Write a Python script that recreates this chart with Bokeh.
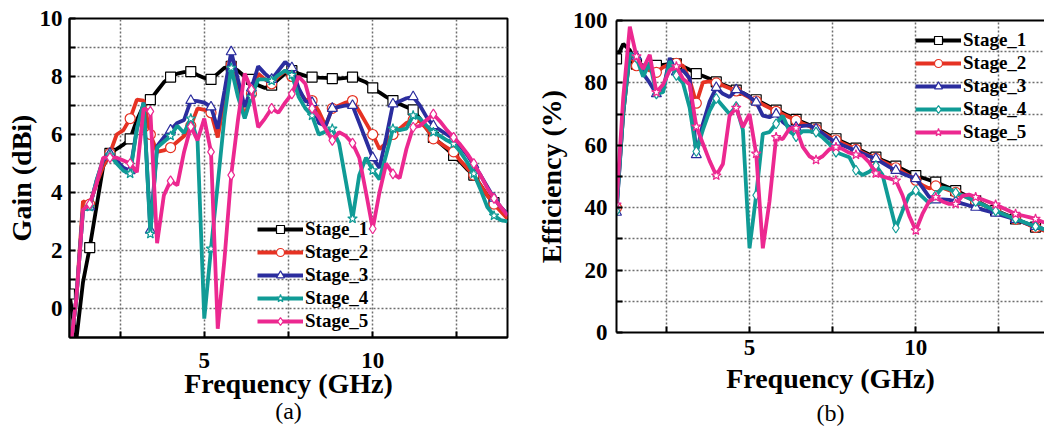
from bokeh.plotting import figure
from bokeh.models import Range1d, FixedTicker, LinearAxis, Legend, LegendItem, Title
from bokeh.layouts import row, column
from bokeh.embed import file_html
from bokeh.resources import INLINE

FONT = "Liberation Serif"

# ---------------- data ----------------
freq = [1.0, 1.2, 1.4, 1.6, 1.8, 2.0, 2.2, 2.4, 2.6, 2.8, 3.0, 3.2, 3.4, 3.6, 3.8,
        4.0, 4.2, 4.4, 4.6, 4.8, 5.0, 5.2, 5.4, 5.6, 5.8, 6.0, 6.2, 6.4, 6.6, 6.8,
        7.0, 7.2, 7.4, 7.6, 7.8, 8.0, 8.2, 8.4, 8.6, 8.8, 9.0, 9.2, 9.4, 9.6, 9.8,
        10.0, 10.2, 10.4, 10.6, 10.8, 11.0, 11.2, 11.4, 11.6, 11.8, 12.0, 12.2, 12.4,
        12.6, 12.8, 13.0, 13.2, 13.4, 13.6, 13.8, 14.0]

stages = ["Stage_1", "Stage_2", "Stage_3", "Stage_4", "Stage_5"]

gain_s1 = [0.5, -1.1, 0.9, 2.1, 3.5, 4.9, 5.35, 5.5, 5.65, 5.85, 6.5, 7.0, 7.2, 7.5, 7.8,
           7.98, 8.1, 8.15, 8.17, 8.05, 7.95, 7.9, 8.1, 8.3, 8.35, 8.2, 8.0, 7.9, 7.7, 7.6,
           7.7, 7.9, 8.1, 8.2, 8.1, 8.02, 7.98, 7.96, 7.95, 7.93, 7.93, 7.95, 7.98, 7.9, 7.8,
           7.61, 7.45, 7.3, 7.17, 7.05, 6.95, 6.85, 6.55, 6.2, 5.9, 5.7, 5.5, 5.28,
           5.05, 4.8, 4.6, 4.25, 3.9, 3.65, 3.45, 3.25]
gain_s2 = [-1.6, 0.3, 3.7, 3.6, 4.3, 4.9, 5.35, 6.0, 6.15, 6.55, 7.2, 7.17, 6.0, 5.4, 5.45,
           5.55, 5.75, 5.95, 6.3, 6.9, 6.85, 6.75, 5.9, 7.2, 8.4, 7.6, 6.6, 7.4, 8.1, 7.9,
           7.75, 8.0, 8.2, 8.0, 7.5, 7.2, 7.17, 6.8, 6.3, 6.9, 7.0, 7.1, 7.17, 6.8, 6.4,
           6.0, 5.5, 5.7, 6.0, 6.2, 6.4, 6.5, 6.45, 6.2, 5.85, 5.7, 5.55, 5.4,
           5.1, 4.85, 4.6, 4.25, 3.9, 3.6, 3.35, 3.1]
gain_s3 = [-1.6, 0.3, 3.4, 3.5, 4.4, 5.1, 5.35, 5.1, 4.85, 4.75, 6.2, 7.1, 2.7, 5.6, 5.9,
           6.15, 6.4, 6.5, 7.17, 7.15, 7.1, 6.95, 6.2, 7.5, 8.85, 7.9, 6.95, 7.6, 8.35, 8.1,
           7.9, 8.2, 8.5, 8.3, 7.6, 7.15, 7.1, 6.4, 6.3, 6.9, 6.95, 7.0, 7.0, 6.4, 5.8,
           5.2, 4.85, 5.9, 7.05, 7.15, 7.25, 7.3, 7.0, 6.6, 6.3, 6.15, 6.0, 5.85,
           5.6, 5.3, 4.95, 4.6, 4.2, 3.8, 3.5, 3.25]
gain_s4 = [-1.6, 0.3, 3.4, 3.5, 4.4, 5.15, 5.3, 5.0, 4.75, 4.65, 6.2, 7.1, 2.57, 5.55, 5.75,
           5.95, 6.3, 6.05, 6.55, 5.8, -0.35, 2.06, 4.3, 6.6, 8.3, 7.3, 6.55, 7.3, 7.9, 7.9,
           7.85, 8.05, 8.2, 8.05, 7.3, 6.9, 6.65, 6.0, 6.1, 6.2, 5.7, 4.4, 3.1, 4.6, 5.2,
           4.76, 4.45, 5.3, 6.2, 6.15, 6.2, 6.66, 6.55, 6.3, 6.08, 5.95, 5.8, 5.68,
           5.4, 5.05, 4.65, 4.1, 3.5, 3.2, 3.05, 3.0]
gain_s5 = [-1.6, 0.3, 3.4, 3.6, 4.3, 5.2, 5.2, 5.2, 5.1, 5.0, 4.7, 6.9, 6.8, 2.25, 3.9,
           4.4, 4.25, 5.4, 6.27, 5.8, 6.55, 5.4, -0.7, 1.7, 4.6, 6.5, 8.1, 7.55, 6.25, 6.55,
           6.9, 6.75, 7.1, 7.4, 8.0, 7.75, 6.9, 6.6, 6.2, 5.8, 6.08, 5.95, 5.7, 5.2, 4.0,
           2.75, 4.0, 5.0, 4.64, 4.5, 5.5, 6.25, 6.3, 6.5, 6.7, 6.45, 6.15, 5.9,
           5.65, 5.35, 5.0, 4.6, 4.15, 3.8, 3.5, 3.2]

eff_s1 = [87.7, 92.5, 90.5, 86.0, 85.6, 85.5, 85.6, 85.8, 86.0, 86.1, 85.3, 84.2, 83.0, 82.2, 81.3,
          80.3, 79.5, 78.6, 77.7, 76.8, 75.7, 74.6, 73.5, 72.4, 71.3, 70.4, 69.3, 68.3, 67.4, 66.5,
          65.6, 64.4, 63.2, 62.1, 61.1, 60.1, 59.1, 58.1, 57.1, 56.2, 55.2, 54.3, 53.3, 52.3, 51.3,
          50.3, 49.6, 48.9, 48.2, 47.3, 46.4, 45.5, 44.5, 43.4, 42.3, 41.2, 40.1, 39.1,
          38.2, 37.3, 36.4, 35.5, 34.6, 33.8, 33.0, 32.2]
eff_s2 = [40, 70, 89, 85.5, 85.0, 84.0, 83.4, 85.0, 86.0, 86.3, 85.5, 81.0, 73.5, 80.2, 80.5,
          80.0, 79.2, 78.3, 77.4, 76.4, 75.3, 74.2, 73.1, 72.0, 70.9, 70.0, 69.0, 68.0, 67.0, 66.1,
          65.2, 64.0, 62.8, 61.7, 60.7, 59.7, 58.7, 57.7, 56.7, 55.8, 54.8, 53.8, 52.8, 51.6, 50.3,
          48.8, 47.2, 46.2, 47.0, 46.4, 45.6, 44.9, 44.0, 43.0, 42.0, 41.0, 40.0, 39.0,
          38.1, 37.2, 36.3, 35.4, 34.5, 33.7, 32.9, 32.1]
eff_s3 = [38.5, 70, 89.5, 88.5, 83, 80, 76.5, 77.5, 88, 83.5, 84, 81.5, 57, 67, 74,
          78.5, 76.5, 75.5, 77.8, 76.8, 75.5, 73.8, 69.5, 69, 70, 67.5, 65.8, 65.8, 66.2, 66.4,
          65.2, 63.8, 62.2, 61, 60, 59.1, 58.3, 57.4, 56.5, 55.7, 54.4, 53.1, 51.9, 51.0, 50.1,
          49.3, 46.5, 43.5, 42.5, 42.7, 42.5, 42.0, 41.3, 40.7, 40.1, 39.4, 38.8, 38.2,
          37.5, 36.9, 36.2, 35.5, 34.7, 34.0, 33.3, 32.6]
eff_s4 = [39, 70, 89.5, 88, 82, 86.5, 76.5, 77, 87, 82.4, 80, 72, 58, 65, 71,
          75, 72.5, 70, 72.4, 65, 27, 44, 63.7, 64.2, 66.9, 69.5, 64.5, 62.8, 64.5, 64.5,
          64.2, 62.5, 60.5, 57.8, 57, 56.2, 52, 50.5, 51.5, 53.5, 50.5, 42, 33.5, 39, 44,
          45.5, 43.5, 41.5, 44, 46.4, 46, 44.8, 44, 43, 42, 41, 40, 39,
          38.1, 37.2, 36.4, 35.6, 34.8, 34.0, 33.3, 32.6]
eff_s5 = [41, 75, 98, 88.5, 84.5, 89, 77, 79.5, 84, 85.3, 81.3, 79.5, 66, 60.5, 55,
          50.3, 54, 69.5, 72, 65.8, 70, 57.3, 27, 42, 62.6, 62, 65.3, 65.5, 59.5, 56.5,
          55.3, 56.5, 58.7, 59.4, 58.8, 57.6, 57.0, 56.7, 54.5, 51, 50, 49.4, 48.7, 44, 37.5,
          32.7, 38, 42, 43.4, 42, 41.2, 41.2, 43.8, 44.2, 43.4, 42.6, 41.8, 41.0,
          40.0, 39.0, 38.0, 37.5, 37.0, 36.4, 35.5, 34.8]

x_ticks = [5, 10]
x_minor = [2.5, 7.5, 12.5]
gain_ticks = [0, 2, 4, 6, 8, 10]
gain_minor = [1, 3, 5, 7, 9]
eff_ticks = [0, 20, 40, 60, 80, 100]
eff_minor = [10, 30, 50, 70, 90]

colors = ["#000000", "#e63223", "#2b2d9e", "#109b96", "#ec2890"]
markers_a = ["square", "circle", "triangle", "star", "diamond"]
markers_b = ["square", "circle", "triangle", "diamond", "star"]

for arr in (gain_s1, gain_s2, gain_s3, gain_s4, gain_s5, eff_s1, eff_s2, eff_s3, eff_s4, eff_s5):
    assert len(arr) == len(freq), len(arr)


def style(p, xt, xm, yt, ym, xlabel, ylabel):
    p.background_fill_color = "white"
    p.border_fill_color = "white"
    p.xaxis.ticker = FixedTicker(ticks=xt, minor_ticks=xm)
    p.yaxis.ticker = FixedTicker(ticks=yt, minor_ticks=ym)
    for g in (p.xgrid[0], p.ygrid[0]):
        g.grid_line_color = "#6e6e6e"
        g.grid_line_width = 1.5
        g.grid_line_dash = "2 2"
        g.minor_grid_line_color = "#6e6e6e"
        g.minor_grid_line_width = 1.5
        g.minor_grid_line_dash = "2 2"
    for ax in (p.xaxis[0], p.yaxis[0]):
        ax.axis_line_width = 2
        ax.axis_line_color = "black"
        ax.major_tick_in = 6
        ax.major_tick_out = 0
        ax.minor_tick_in = 6
        ax.minor_tick_out = 0
        ax.major_tick_line_width = 2
        ax.minor_tick_line_width = 2
        ax.major_tick_line_color = "black"
        ax.minor_tick_line_color = "black"
        ax.major_label_text_font = FONT
        ax.major_label_text_font_style = "bold"
        ax.major_label_text_font_size = "23px"
        ax.major_label_text_color = "black"
        ax.axis_label_text_font = FONT
        ax.axis_label_text_font_style = "bold"
        ax.axis_label_text_font_size = "28px"
        ax.axis_label_text_color = "black"
    p.xaxis.axis_label = xlabel
    p.yaxis.axis_label = ylabel


def add_series(p, series, markers, loc):
    items = []
    for name, vals, color, mk in zip(stages, series, colors, markers):
        rl = p.line(freq, vals, line_color=color, line_width=3.8)
        rm = p.scatter(freq[::3], vals[::3], marker=mk, size=10, fill_color="white",
                       line_color=color, line_width=1.2)
        items.append(LegendItem(label=name, renderers=[rl, rm]))
    leg = Legend(items=items, location=loc, background_fill_alpha=0, border_line_color=None,
                 padding=0, margin=0, spacing=1, glyph_width=46, glyph_height=20,
                 label_height=20, label_standoff=2, label_text_font=FONT,
                 label_text_font_style="bold", label_text_font_size="19px",
                 label_text_color="black")
    p.add_layout(leg)


H = 434

# ---------------- panel (a) ----------------
p1 = figure(width=520, height=H, x_range=Range1d(1, 14), y_range=Range1d(-1, 10),
            output_backend="svg", toolbar_location=None,
            min_border_left=69, min_border_right=13, min_border_top=18,
            min_border_bottom=H - 337)
style(p1, x_ticks, x_minor, gain_ticks, gain_minor, "Frequency (GHz)", "Gain (dBi)")
p1.outline_line_color = "black"
p1.outline_line_width = 2
p1.xaxis.major_label_standoff = 15
p1.xaxis.axis_label_standoff = -3
p1.yaxis.major_label_standoff = 7
p1.yaxis.axis_label_standoff = 0
add_series(p1, [gain_s1, gain_s2, gain_s3, gain_s4, gain_s5], markers_a, (188, 5))
p1.add_layout(Title(text="(a)", align="center", text_font=FONT, text_font_style="normal",
                    text_font_size="24px", text_color="black", standoff=-11), "below")

# ---------------- panel (b) ----------------
p2 = figure(width=524, height=H, x_range=Range1d(1, 13.87), y_range=Range1d(0, 100),
            output_backend="svg", toolbar_location=None,
            min_border_left=96, min_border_right=0, min_border_top=20,
            min_border_bottom=H - 332)
style(p2, x_ticks, x_minor, eff_ticks, eff_minor, "Frequency (GHz)", "Efficiency (%)")
p2.outline_line_color = None
p2.xaxis.major_label_standoff = 7
p2.xaxis.axis_label_standoff = 5
p2.yaxis.major_label_standoff = 9
p2.yaxis.axis_label_standoff = 3
top = LinearAxis(ticker=FixedTicker(ticks=[]), axis_line_width=2, axis_line_color="black",
                 major_tick_line_color=None, minor_tick_line_color=None,
                 major_label_text_font_size="0px")
p2.add_layout(top, "above")
add_series(p2, [eff_s1, eff_s2, eff_s3, eff_s4, eff_s5], markers_b, (299, 189))
p2.add_layout(Title(text="(b)", align="center", text_font=FONT, text_font_style="normal",
                    text_font_size="24px", text_color="black", standoff=3), "below")

layout = row(column(p1), column(p2))
open("out.html", "w").write(file_html(layout, INLINE))
